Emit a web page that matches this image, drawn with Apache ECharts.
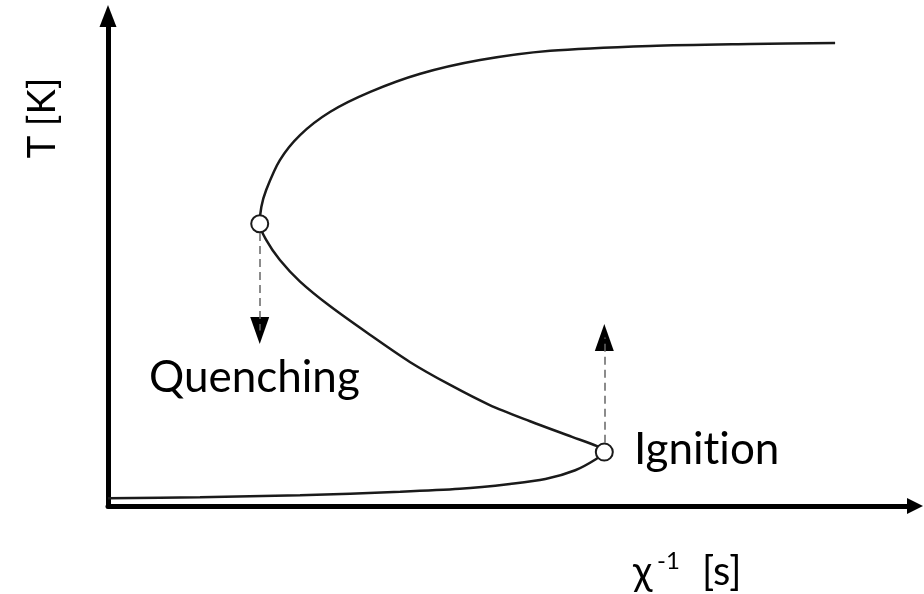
<!DOCTYPE html>
<html>
<head>
<meta charset="utf-8">
<script src="https://cdn.jsdelivr.net/npm/echarts@6/dist/echarts.min.js"></script>
<style>
  html, body { margin: 0; padding: 0; background: #fff; }
  #chart { width: 924px; height: 594px; }
</style>
</head>
<body>
<div id="chart"></div>
<script>
// S-shaped steady-state response: temperature vs. inverse scalar dissipation rate.
// Points follow the curve from the cold (lower) branch, through the unstable
// middle branch, to the burning (upper) branch.
const inverseRate = [
  0, 11.4, 23.8, 36.2, 43.6, 49.8, 54.2, 57.9, 60.5, 61.5,
  60.6, 57.5, 52.3, 47.3, 42.4, 37.4, 32.5, 27.5, 23.8, 21.3, 19.6, 18.8,
  19.0, 19.6, 21.3, 23.8, 27.5, 32.5, 38.7, 46.1, 54.8, 67.2, 79.6, 90.1
];
const temperature = [
  1.6, 1.8, 2.2, 2.9, 3.5, 4.5, 5.5, 7.3, 9.6, 11.0,
  12.2, 14.1, 17.3, 20.6, 24.7, 29.4, 34.9, 40.8, 45.8, 50.2, 54.3, 57.6,
  61.0, 64.5, 70.6, 75.7, 80.4, 84.5, 88.2, 91.0, 92.9, 93.9, 94.3, 94.5
];

// Turning points of the curve
const pointNames = ['Quenching', 'Ignition'];
const pointX = [18.8, 61.5];
const pointY = [57.6, 11.0];

// Jumps away from each turning point: dashed shaft start, arrowhead centre, direction
const jumpFrom = [55.7, 12.9];
const arrowHeadY = [35.8, 34.4];
const arrowRotate = [180, 0];

const curveData = inverseRate.map((x, i) => [x, temperature[i]]);
const pointData = pointX.map((x, i) => ({ name: pointNames[i], value: [x, pointY[i]] }));
const jumpLines = pointX.map((x, i) => [
  { coord: [x, jumpFrom[i]] },
  { coord: [x, arrowHeadY[i]] }
]);
const headData = pointX.map((x, i) => ({ value: [x, arrowHeadY[i]], symbolRotate: arrowRotate[i] }));

const FONT = 'Lato';
const chart = echarts.init(document.getElementById('chart'), null, { renderer: 'canvas' });

chart.setOption({
  animation: false,
  backgroundColor: '#ffffff',
  grid: { left: 108, top: 16, width: 807, height: 490, containLabel: false },
  xAxis: {
    type: 'value', min: 0, max: 100,
    axisLine: {
      show: true, onZero: false,
      symbol: ['none', 'triangle'], symbolSize: [16, 16],
      lineStyle: { color: '#000', width: 5 }
    },
    axisTick: { show: false }, axisLabel: { show: false }, splitLine: { show: false }
  },
  yAxis: {
    type: 'value', min: 0, max: 100,
    axisLine: {
      show: true, onZero: false,
      symbol: ['none', 'triangle'], symbolSize: [17, 22],
      lineStyle: { color: '#000', width: 5 }
    },
    axisTick: { show: false }, axisLabel: { show: false }, splitLine: { show: false }
  },
  series: [
    {
      type: 'line',
      data: curveData,
      smooth: 0.3,
      showSymbol: false,
      lineStyle: { color: '#1a1a1a', width: 2.5 },
      z: 2
    },
    {
      // dashed jump lines with black arrowheads
      type: 'scatter',
      data: headData,
      symbol: 'triangle',
      symbolSize: [19, 27],
      itemStyle: { color: '#000', opacity: 1 },
      z: 3,
      markLine: {
        silent: true,
        symbol: ['none', 'none'],
        label: { show: false },
        lineStyle: { color: '#666', width: 1.5, type: [8, 5] },
        data: jumpLines
      }
    },
    {
      type: 'scatter',
      data: pointData,
      symbol: 'circle',
      symbolSize: 17,
      itemStyle: { color: '#ffffff', borderColor: '#1a1a1a', borderWidth: 2, opacity: 1 },
      z: 4
    }
  ],
  graphic: [
    {
      type: 'text', x: 43, y: 118, rotation: Math.PI / 2,
      style: { text: 'T [K]', font: '38px ' + FONT, fill: '#000', textAlign: 'center', textVerticalAlign: 'middle' }
    },
    {
      type: 'text', x: 149, y: 378,
      style: { text: 'Quenching', font: '44px ' + FONT, fill: '#000', textAlign: 'left', textVerticalAlign: 'middle' }
    },
    {
      type: 'text', x: 634, y: 450,
      style: { text: 'Ignit\u200Cion', font: '44px ' + FONT, fill: '#000', textAlign: 'left', textVerticalAlign: 'middle' }
    },
    {
      type: 'text', x: 633, y: 572,
      style: { text: 'χ', font: '40px ' + FONT, fill: '#000', textAlign: 'left', textVerticalAlign: 'middle' }
    },
    {
      type: 'text', x: 657, y: 561,
      style: { text: '-1', font: '24px ' + FONT, fill: '#000', textAlign: 'left', textVerticalAlign: 'middle' }
    },
    {
      type: 'text', x: 702, y: 572,
      style: { text: '[s]', font: '40px ' + FONT, fill: '#000', textAlign: 'left', textVerticalAlign: 'middle' }
    }
  ]
});
</script>
</body>
</html>
